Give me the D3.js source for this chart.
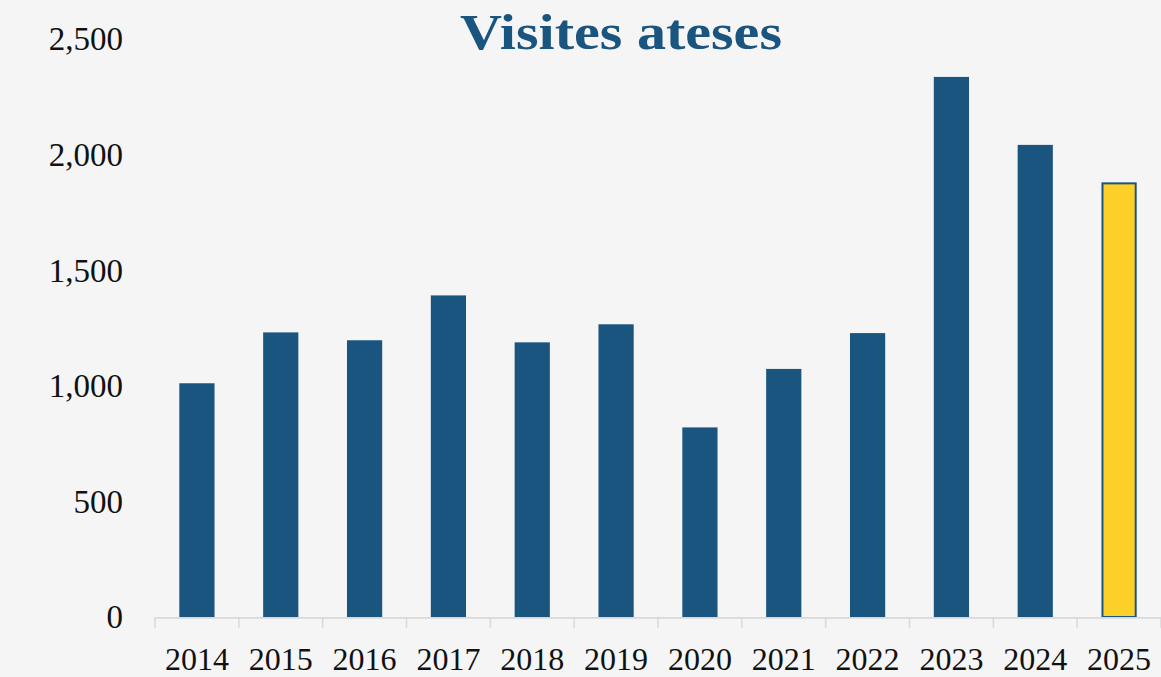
<!DOCTYPE html>
<html>
<head>
<meta charset="utf-8">
<script src="https://cdn.jsdelivr.net/npm/d3@7"></script>
<style>
  html, body { margin: 0; padding: 0; background: #f5f5f5; }
  svg { display: block; }
</style>
</head>
<body>
<svg id="chart" width="1161" height="677"></svg>
<script>
// Annual visits handled
const years = ["2014", "2015", "2016", "2017", "2018", "2019", "2020", "2021", "2022", "2023", "2024", "2025"];
const visits = [1011, 1231, 1197, 1391, 1188, 1266, 820, 1073, 1228, 2336, 2042, 1880];
const yTicks = [0, 500, 1000, 1500, 2000, 2500];
const highlightYear = "2025";
const title = "Visites ateses";

const blue = "#1a5580";
const yellow = "#fccf29";
const axisGrey = "#d9d9d9";

const svg = d3.select("#chart");
const W = 1161, H = 677;

svg.append("rect").attr("width", W).attr("height", H).attr("fill", "#f5f5f5");

const x = d3.scaleBand()
  .domain(years)
  .range([155, 1161])
  .paddingInner(0.58)
  .paddingOuter(0.29);

const y = d3.scaleLinear()
  .domain([0, 2500])
  .range([617, 39]);

// Y tick labels (no axis line)
const yAxis = d3.axisLeft(y)
  .tickValues(yTicks)
  .tickFormat(d3.format(","))
  .tickSize(0)
  .tickPadding(0);

const gy = svg.append("g")
  .attr("transform", "translate(123,0)")
  .call(yAxis);
gy.select(".domain").remove();
gy.selectAll("text")
  .attr("font-family", "'Liberation Serif', serif")
  .attr("font-size", 33)
  .attr("fill", "#111")
  .attr("dy", "0.33em");

// Bars
const data = years.map((yr, i) => ({ year: yr, value: visits[i] }));
svg.append("g")
  .selectAll("rect")
  .data(data)
  .join("rect")
  .attr("x", d => d.year === highlightYear ? x(d.year) + 1 : x(d.year))
  .attr("y", d => d.year === highlightYear ? y(d.value) + 1 : y(d.value))
  .attr("width", d => d.year === highlightYear ? x.bandwidth() - 2 : x.bandwidth())
  .attr("height", d => d.year === highlightYear ? y(0) - y(d.value) - 1 : y(0) - y(d.value))
  .attr("fill", d => d.year === highlightYear ? yellow : blue)
  .attr("stroke", d => d.year === highlightYear ? blue : "none")
  .attr("stroke-width", 2);

// X axis: baseline with ticks between categories
const step = x.step();
const gap = step - x.bandwidth();
const boundaries = years.map(yr => x(yr) - gap / 2);
boundaries.push(x(years[years.length - 1]) + x.bandwidth() + gap / 2);

const gx = svg.append("g");
gx.append("line")
  .attr("x1", boundaries[0]).attr("x2", boundaries[boundaries.length - 1])
  .attr("y1", y(0) + 0.8).attr("y2", y(0) + 0.8)
  .attr("stroke", axisGrey).attr("stroke-width", 1.8);
gx.selectAll("line.tick")
  .data(boundaries)
  .join("line")
  .attr("class", "tick")
  .attr("x1", d => d).attr("x2", d => d)
  .attr("y1", y(0)).attr("y2", y(0) + 11)
  .attr("stroke", axisGrey).attr("stroke-width", 1.5);

const xAxis = d3.axisBottom(x).tickSize(0).tickPadding(0);
const gxl = svg.append("g")
  .attr("transform", "translate(0,670)")
  .call(xAxis);
gxl.select(".domain").remove();
gxl.selectAll("text")
  .attr("font-family", "'Liberation Serif', serif")
  .attr("font-size", 32)
  .attr("fill", "#111")
  .attr("dy", 0);

// Title
svg.append("text")
  .attr("x", 621)
  .attr("y", 49)
  .attr("text-anchor", "middle")
  .attr("font-family", "'Liberation Serif', serif")
  .attr("font-weight", "bold")
  .attr("font-size", 50)
  .attr("fill", blue)
  .attr("textLength", 322)
  .attr("lengthAdjust", "spacingAndGlyphs")
  .text(title);
</script>
</body>
</html>
